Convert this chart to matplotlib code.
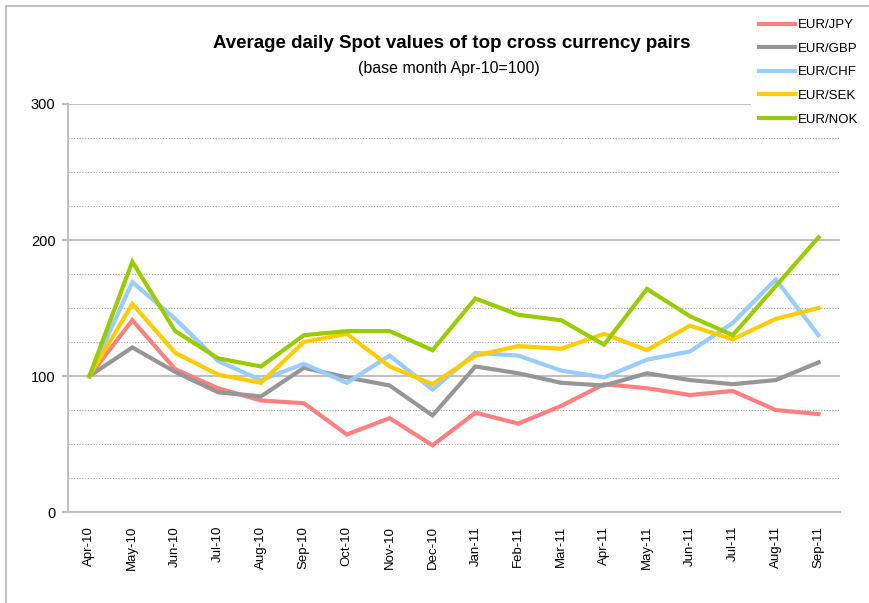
import matplotlib
matplotlib.use("Agg")
import matplotlib.pyplot as plt
from matplotlib.lines import Line2D
from matplotlib.patches import Rectangle

plt.rcParams['font.family'] = ['Liberation Sans', 'DejaVu Sans']

months = ["Apr-10", "May-10", "Jun-10", "Jul-10", "Aug-10", "Sep-10", "Oct-10", "Nov-10", "Dec-10",
          "Jan-11", "Feb-11", "Mar-11", "Apr-11", "May-11", "Jun-11", "Jul-11", "Aug-11", "Sep-11"]

eur_jpy = [100, 141, 105, 91, 82, 80, 57, 69, 49, 73, 65, 78, 94, 91, 86, 89, 75, 72]
eur_gbp = [100, 121, 103, 88, 85, 106, 99, 93, 71, 107, 102, 95, 93, 102, 97, 94, 97, 110]
eur_chf = [100, 169, 142, 111, 97, 109, 95, 115, 90, 117, 115, 104, 99, 112, 118, 139, 171, 130]
eur_sek = [100, 153, 117, 101, 95, 125, 131, 107, 94, 115, 122, 120, 131, 119, 137, 127, 142, 150]
eur_nok = [100, 184, 133, 113, 107, 130, 133, 133, 119, 157, 145, 141, 123, 164, 144, 130, 166, 202]

series = [("EUR/JPY", eur_jpy, "#ff8080"),
          ("EUR/GBP", eur_gbp, "#969696"),
          ("EUR/CHF", eur_chf, "#99ccff"),
          ("EUR/SEK", eur_sek, "#ffcc00"),
          ("EUR/NOK", eur_nok, "#99cc00")]

W, H = 869, 603
fig = plt.figure(figsize=(W / 100, H / 100), dpi=100)
ax = fig.add_axes([68 / W, 1 - 512 / H, (840 - 68) / W, (512 - 104) / H])

x = list(range(len(months)))
handles = []
for name, vals, col in series:
    h, = ax.plot(x, vals, color=col, lw=3, label=name, solid_joinstyle='miter', zorder=3)
    handles.append(h)

ax.set_xlim(-0.5, len(months) - 0.5)
ax.set_ylim(0, 300)
ax.set_yticks([0, 100, 200, 300])
ax.set_yticks(range(25, 300, 25), minor=True)
ax.yaxis.grid(True, which='major', color='#c0c0c0', lw=1.5)
ax.yaxis.grid(True, which='minor', color='#a0a0a0', lw=0.8, linestyle=(0, (1, 1.5)))
ax.set_axisbelow(True)
ax.tick_params(axis='y', which='major', length=4, color='#c0c0c0', width=1.5, labelsize=10.5, pad=5)
ax.tick_params(axis='y', which='minor', length=0)
ax.set_xticks(x)
ax.set_xticklabels(months, rotation=90, fontsize=9.5)
ax.tick_params(axis='x', length=0, pad=10)
for s in ['top', 'right']:
    ax.spines[s].set_visible(False)
for s in ['left', 'bottom']:
    ax.spines[s].set_color('#c0c0c0')
    ax.spines[s].set_linewidth(1.5)

# chart border
fig.add_artist(Line2D([6 / W, 6 / W], [0, 1 - 6 / H], color='#c0c0c0', lw=1.5))
fig.add_artist(Line2D([6 / W, 1], [1 - 6 / H, 1 - 6 / H], color='#c0c0c0', lw=1.5))

# legend area (white box covering the plot corner)
fig.add_artist(Rectangle((751 / W, 1 - 128 / H), (W - 751) / W, (128 - 8) / H,
                         transform=fig.transFigure, facecolor='white', edgecolor='none', zorder=2))
leg = fig.legend(handles=handles, loc='upper left', bbox_to_anchor=(759 / W, 1 - 19 / H),
                 frameon=False, fontsize=9.5, handlelength=2.75, handletextpad=0.2,
                 labelspacing=0.86, borderpad=0, borderaxespad=0)
leg.set_zorder(5)

fig.text(452 / W, 1 - 44 / H, "Average daily Spot values of top cross currency pairs",
         ha='center', va='center', fontsize=13.5, fontweight='bold')
fig.text(449 / W, 1 - 69 / H, "(base month Apr-10=100)", ha='center', va='center', fontsize=11.5)

fig.savefig("out.png", dpi=100)
